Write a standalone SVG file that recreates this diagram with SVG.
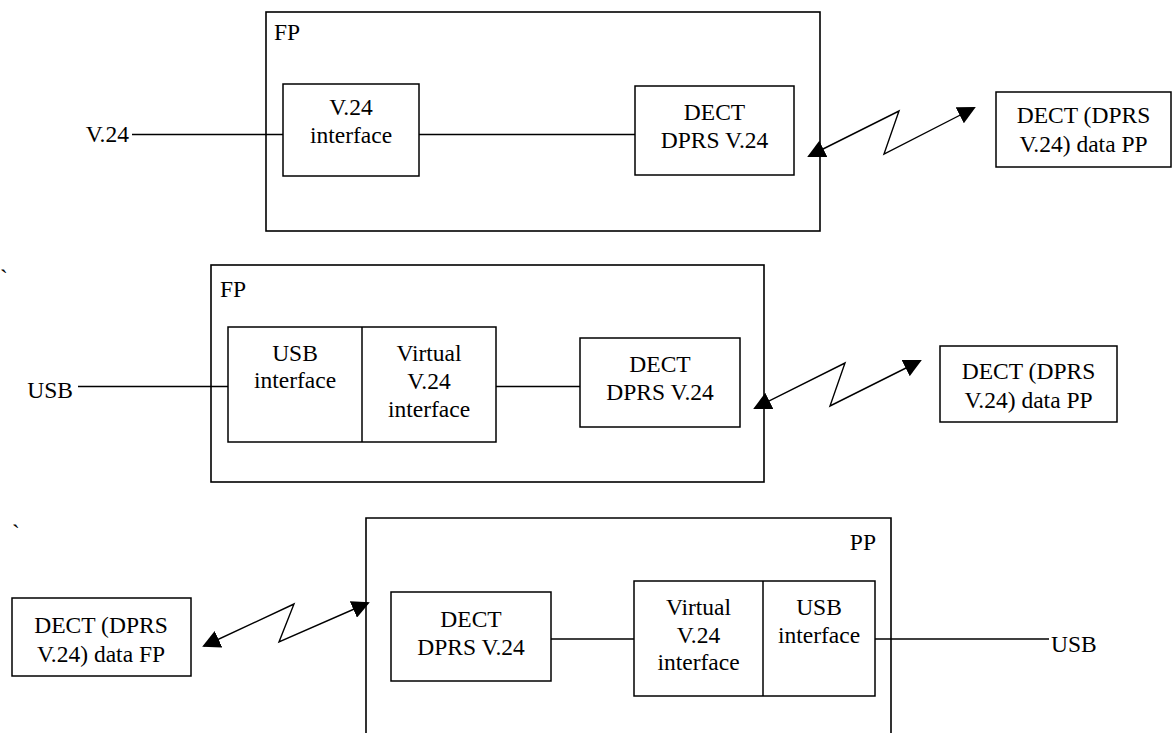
<svg xmlns="http://www.w3.org/2000/svg" width="1173" height="733" viewBox="0 0 1173 733">
  <defs>
    <style>
      .frame { fill: none; stroke: #000; stroke-width: 1.6; }
      .box { fill: #fff; stroke: #000; stroke-width: 1.5; }
      .wire { fill: none; stroke: #000; stroke-width: 1.5; }
      .radio { fill: none; stroke: #000; stroke-width: 1.4; marker-start: url(#tri); marker-end: url(#tri); }
      text { font-family: "Liberation Serif", "Times New Roman", "DejaVu Serif", serif; font-size: 23.5px; fill: #000; }
      .c { text-anchor: middle; }
      .e { text-anchor: end; }
    </style>
    <marker id="tri" viewBox="0 0 18 18" markerUnits="userSpaceOnUse" markerWidth="18" markerHeight="18" refX="16" refY="9" orient="auto-start-reverse">
      <path d="M0,0 L18,9 L0,18 Z" fill="#000"/>
    </marker>
  </defs>

  <!-- stray marks -->
  <text x="0" y="286">`</text>
  <text x="12" y="541">`</text>

  <!-- ===== Configuration 1: V.24 fixed part ===== -->
  <g id="fp1">
    <rect class="frame" x="266" y="12" width="554" height="219"/>
    <text x="274" y="40">FP</text>
  </g>
  <g id="v24-port">
    <text class="e" x="129" y="142">V.24</text>
  </g>
  <g id="v24-interface">
    <rect class="box" x="283" y="84" width="136" height="92"/>
    <text class="c" x="351" y="115">V.24</text>
    <text class="c" x="351" y="143">interface</text>
  </g>
  <g id="dect1">
    <rect class="box" x="635" y="86" width="159" height="89"/>
    <text class="c" x="714.5" y="120">DECT</text>
    <text class="c" x="714.5" y="148">DPRS V.24</text>
  </g>
  <g id="pp1">
    <rect class="box" x="996" y="92" width="175" height="75"/>
    <text class="c" x="1083.5" y="123">DECT (DPRS</text>
    <text class="c" x="1083.5" y="152">V.24) data PP</text>
  </g>

  <!-- ===== Configuration 2: USB fixed part ===== -->
  <g id="fp2">
    <rect class="frame" x="211" y="265" width="553" height="217"/>
    <text x="220" y="297">FP</text>
  </g>
  <g id="usb-port-fp">
    <text class="e" x="73" y="398">USB</text>
  </g>
  <g id="usb-virtual-fp">
    <rect class="box" x="228" y="327" width="268" height="115"/>
    <line class="wire" x1="362" y1="327" x2="362" y2="442"/>
    <text class="c" x="295" y="361">USB</text>
    <text class="c" x="295" y="388">interface</text>
    <text class="c" x="429" y="361">Virtual</text>
    <text class="c" x="429" y="389">V.24</text>
    <text class="c" x="429" y="417">interface</text>
  </g>
  <g id="dect2">
    <rect class="box" x="580" y="338" width="160" height="89"/>
    <text class="c" x="660" y="372">DECT</text>
    <text class="c" x="660" y="400">DPRS V.24</text>
  </g>
  <g id="pp2">
    <rect class="box" x="940" y="346" width="177" height="76"/>
    <text class="c" x="1028.5" y="379">DECT (DPRS</text>
    <text class="c" x="1028.5" y="408">V.24) data PP</text>
  </g>

  <!-- ===== Configuration 3: USB portable part ===== -->
  <g id="pp3">
    <path class="frame" d="M366,740 V518 H891 V740"/>
    <text class="e" x="876" y="550">PP</text>
  </g>
  <g id="fp3">
    <rect class="box" x="12" y="598" width="179" height="78"/>
    <text class="c" x="101" y="633">DECT (DPRS</text>
    <text class="c" x="101" y="662">V.24) data FP</text>
  </g>
  <g id="dect3">
    <rect class="box" x="391" y="592" width="160" height="89"/>
    <text class="c" x="471" y="627">DECT</text>
    <text class="c" x="471" y="655">DPRS V.24</text>
  </g>
  <g id="virtual-usb-pp">
    <rect class="box" x="634" y="581" width="241" height="115"/>
    <line class="wire" x1="763" y1="581" x2="763" y2="696"/>
    <text class="c" x="698.5" y="615">Virtual</text>
    <text class="c" x="698.5" y="643">V.24</text>
    <text class="c" x="698.5" y="670">interface</text>
    <text class="c" x="819" y="615">USB</text>
    <text class="c" x="819" y="643">interface</text>
  </g>
  <g id="usb-port-pp">
    <text x="1051" y="652">USB</text>
  </g>

  <!-- ===== Connectors ===== -->
  <g id="connectors">
    <line class="wire" x1="132" y1="134.5" x2="283" y2="134.5"/>
    <line class="wire" x1="419" y1="134.5" x2="635" y2="134.5"/>
    <path class="radio" d="M809,156 L899,111 L884,154 L974,108"/>

    <line class="wire" x1="78" y1="386.5" x2="228" y2="386.5"/>
    <line class="wire" x1="496" y1="386.5" x2="580" y2="386.5"/>
    <path class="radio" d="M755,408 L845,363 L830,406 L920,361"/>

    <path class="radio" d="M204,646 L294,604 L279,642 L368,603"/>
    <line class="wire" x1="551" y1="639" x2="634" y2="639"/>
    <line class="wire" x1="875" y1="639" x2="1049" y2="639"/>
  </g>
</svg>
